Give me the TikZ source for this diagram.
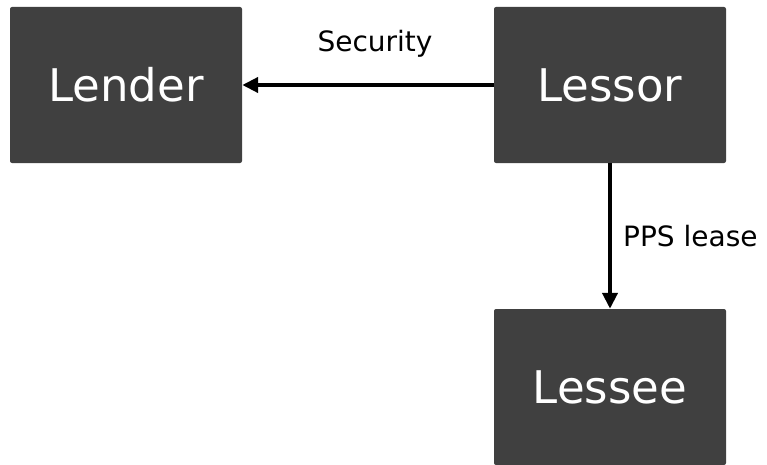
\documentclass[tikz,border=0pt]{standalone}
\usepackage{fontspec}
\setmainfont{DejaVu Sans}
\usetikzlibrary{arrows.meta}
\definecolor{boxgrey}{HTML}{404040}
\tikzset{
  partybox/.style={fill=boxgrey, draw=none, rounded corners=2pt, inner sep=0pt,
    minimum width=232pt, minimum height=156pt, text=white,
    font=\fontsize{45}{45}\selectfont},
  flowlabel/.style={inner sep=0pt, text=black, font=\fontsize{28}{28}\selectfont},
  flowarrow/.style={line width=4.5pt, -{Triangle[length=16pt,width=15pt]}}
}
\begin{document}
\begin{tikzpicture}[x=1pt,y=-1pt]
\useasboundingbox (0,0) rectangle (767,465);
\node[partybox] (lender) at (126,85) {Lender};
\node[partybox] (lessor) at (610,85) {Lessor};
\node[partybox] (lessee) at (610,387) {Lessee};
\draw[flowarrow] (lessor.west) -- (lender.east);
\draw[flowarrow] (lessor.south) -- (lessee.north);
\node[flowlabel] (security) at (375,44) {Security};
\node[flowlabel, anchor=west] (ppslease) at (623,236) {PPS lease};
\end{tikzpicture}
\end{document}
